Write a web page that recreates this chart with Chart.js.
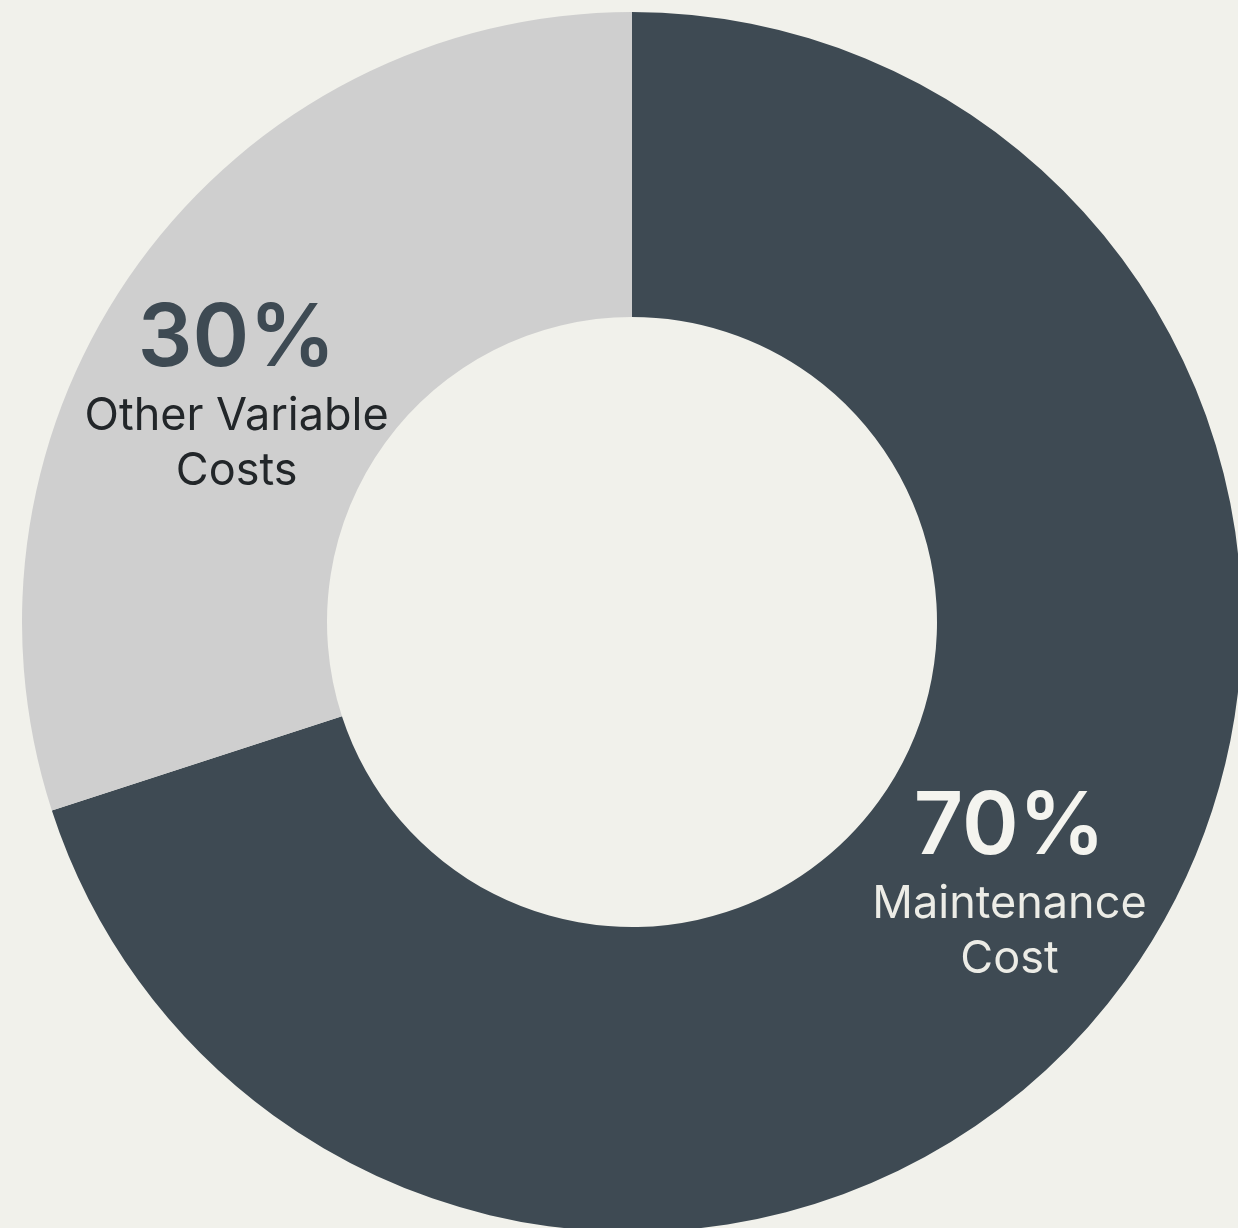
<!DOCTYPE html>
<html>
<head>
<meta charset="utf-8">
<script src="https://cdn.jsdelivr.net/npm/chart.js@4"></script>
<style>
  html, body { margin: 0; padding: 0; background: #f1f1eb; overflow: hidden; width: 1238px; height: 1228px; }
  #wrap { position: absolute; left: 22px; top: 12px; width: 1220px; height: 1220px; }
</style>
</head>
<body>
<div id="wrap"><canvas id="costChart" width="1220" height="1220"></canvas></div>
<script>
const categories = [['Maintenance', 'Cost'], ['Other Variable', 'Costs']];
const shares = [70, 30];
const sliceColors = ['#3e4a53', '#cfcfcf'];

// draws "70%" plus the name inside each slice
const sliceLabels = {
  id: 'sliceLabels',
  afterDatasetsDraw(chart, args, opts) {
    const ctx = chart.ctx;
    const arcs = chart.getDatasetMeta(0).data;
    arcs.forEach((arc, i) => {
      const p = arc.getProps(['x', 'y', 'startAngle', 'endAngle', 'innerRadius', 'outerRadius'], true);
      const mid = (p.startAngle + p.endAngle) / 2 + opts.nudge[i] * Math.PI / 180;
      const r = (p.innerRadius + p.outerRadius) / 2;
      const cx = p.x + Math.cos(mid) * r;
      const cy = p.y + Math.sin(mid) * r;
      ctx.save();
      ctx.textAlign = 'center';
      ctx.textBaseline = 'alphabetic';
      ctx.fillStyle = opts.pctColor[i];
      ctx.font = '600 86px Inter, "Noto Sans", sans-serif';
      ctx.fillText(shares[i] + '%', cx, cy - 26);
      ctx.fillStyle = opts.nameColor[i];
      ctx.font = '400 45px Inter, "Noto Sans", sans-serif';
      categories[i].forEach((line, j) => {
        ctx.fillText(line, cx, cy + 38 + j * 55);
      });
      ctx.restore();
    });
  }
};

new Chart(document.getElementById('costChart').getContext('2d'), {
  type: 'doughnut',
  data: {
    labels: categories.map(c => c.join(' ')),
    datasets: [{
      data: shares,
      backgroundColor: sliceColors,
      borderWidth: 0
    }]
  },
  options: {
    responsive: false,
    animation: false,
    cutout: '50%',
    layout: { padding: 0 },
    plugins: {
      legend: { display: false },
      tooltip: { enabled: false },
      sliceLabels: {
        nudge: [-1.6, -5.8],
        pctColor: ['#f4f4ef', '#3e4a53'],
        nameColor: ['#ececE6', '#222629']
      }
    }
  },
  plugins: [sliceLabels]
});
</script>
</body>
</html>
